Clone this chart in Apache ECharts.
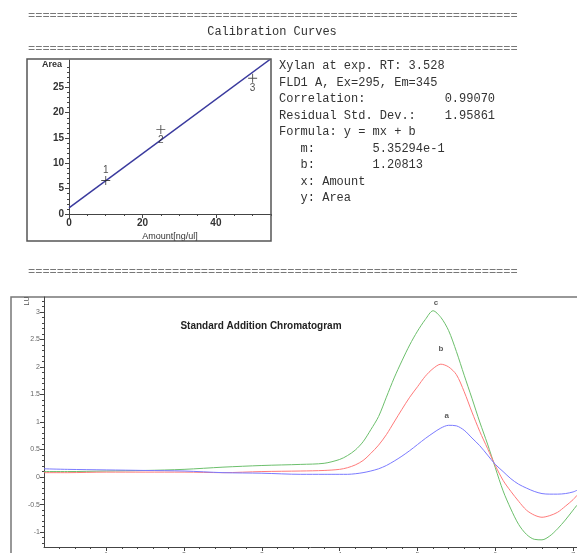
<!DOCTYPE html>
<html>
<head>
<meta charset="utf-8">
<script src="https://cdn.jsdelivr.net/npm/echarts@6/dist/echarts.min.js"></script>
<style>
html,body{margin:0;padding:0;background:#fff;}
#chart{width:577px;height:553px;}
</style>
</head>
<body>
<div id="chart"></div>
<script>
// ---------- Calibration data ----------
const calibAmount = [10, 25, 50];
const calibArea = [6.6, 16.7, 26.8];
const calibLabels = ['1', '2', '3'];
const fitAmount = [0, 55];
const fitArea = [1.21, 30.65];
const calibXTicks = [0, 20, 40];
const calibYTicks = [0, 5, 10, 15, 20, 25];

const infoLines = [
  'Xylan at exp. RT: 3.528',
  'FLD1 A, Ex=295, Em=345',
  'Correlation:           0.99070',
  'Residual Std. Dev.:    1.95861',
  'Formula: y = mx + b',
  '   m:        5.35294e-1',
  '   b:        1.20813',
  '   x: Amount',
  '   y: Area'
];

// ---------- Chromatogram data ----------
const rt = [0.2, 0.5, 1.0, 1.5, 2.0, 2.5, 3.0, 3.5, 3.8, 4.0, 4.1, 4.2, 4.3, 4.4, 4.5, 4.6, 4.7, 4.8, 4.9, 5.0,
            5.1, 5.2, 5.3, 5.4, 5.5, 5.6, 5.7, 5.8, 5.9, 6.0, 6.1, 6.2, 6.3, 6.4, 6.5, 6.6, 6.7, 6.8, 6.9, 7.0, 7.05];
const sigC = [0.10, 0.10, 0.11, 0.12, 0.14, 0.18, 0.21, 0.23, 0.25, 0.32, 0.39, 0.49, 0.64, 0.86, 1.10, 1.45, 1.80, 2.11, 2.40, 2.65,
              2.86, 3.02, 2.90, 2.66, 2.28, 1.85, 1.43, 1.00, 0.60, 0.17, -0.25, -0.58, -0.86, -1.04, -1.13, -1.14, -1.07, -0.94, -0.78, -0.60, -0.51];
const sigB = [0.08, 0.08, 0.09, 0.09, 0.09, 0.08, 0.10, 0.11, 0.12, 0.14, 0.17, 0.22, 0.30, 0.43, 0.58, 0.77, 1.00, 1.23, 1.45, 1.64,
              1.83, 1.97, 2.05, 2.00, 1.86, 1.55, 1.18, 0.83, 0.52, 0.21, -0.06, -0.26, -0.44, -0.60, -0.69, -0.73, -0.70, -0.64, -0.53, -0.41, -0.33];
const sigA = [0.15, 0.14, 0.13, 0.12, 0.11, 0.08, 0.07, 0.05, 0.05, 0.05, 0.05, 0.06, 0.08, 0.11, 0.15, 0.21, 0.29, 0.38, 0.48, 0.59,
              0.70, 0.80, 0.89, 0.94, 0.93, 0.85, 0.71, 0.57, 0.40, 0.23, 0.10, -0.03, -0.13, -0.20, -0.26, -0.30, -0.31, -0.31, -0.30, -0.27, -0.24];
const seriesNames = ['c', 'b', 'a'];
const chromXTicks = [1, 2, 3, 4, 5, 6, 7];
const chromYTicks = [-1, -0.5, 0, 0.5, 1, 1.5, 2, 2.5, 3];

// ---------- helpers ----------
function range(a, b, step, skipEvery) {
  const out = [];
  for (let v = a; v <= b + 1e-9; v += step) {
    const r = Math.round(v * 1000) / 1000;
    if (skipEvery && Math.abs(r / skipEvery - Math.round(r / skipEvery)) < 1e-6) continue;
    out.push(r);
  }
  return out;
}
function pairs(xs, ys) { return xs.map((x, i) => [x, ys[i]]); }
function peak(xs, ys) { let k = 0; ys.forEach((v, i) => { if (v > ys[k]) k = i; }); return [xs[k], ys[k]]; }

const calibXMinor = range(0, 55, 5, 20);
const calibYMinor = range(0, 30, 1, 5);
const chromXMinor = range(0.4, 7.0, 0.2, 1);
const chromYMinor = range(-1.2, 3.2, 0.1, 0.5);

const mono = '"Liberation Mono","Courier New",monospace';
const sans = '"Liberation Sans",Arial,sans-serif';
const axisCol = '#444';

const chart = echarts.init(document.getElementById('chart'), null, {renderer: 'canvas'});

const graphic = [];
// separators and heading
graphic.push({type: 'text', left: 28, top: 10, style: {text: '='.repeat(68), font: '12px ' + mono, fill: '#777'}});
graphic.push({type: 'text', x: 272, y: 32, style: {text: 'Calibration Curves', font: '12px ' + mono, fill: '#333', align: 'center', verticalAlign: 'middle'}});
graphic.push({type: 'text', left: 28, top: 43, style: {text: '='.repeat(68), font: '12px ' + mono, fill: '#777'}});
graphic.push({type: 'text', left: 28, top: 266, style: {text: '='.repeat(68), font: '12px ' + mono, fill: '#777'}});
// calibration box
graphic.push({type: 'rect', shape: {x: 27, y: 59, width: 244, height: 182}, style: {fill: 'none', stroke: '#555', lineWidth: 1.5}, z: 10});
// info lines
infoLines.forEach((t, i) => {
  graphic.push({type: 'text', x: 279, y: 66 + i * 16.5, style: {text: t, font: '12px ' + mono, fill: '#333', verticalAlign: 'middle'}});
});
// chromatogram frame
graphic.push({type: 'polyline', shape: {points: [[11, 553], [11, 297], [577, 297]]}, style: {stroke: '#777', lineWidth: 1.5, fill: 'none'}});
graphic.push({type: 'text', x: 261, y: 326, style: {text: 'Standard Addition Chromatogram', font: 'bold 10px ' + sans, fill: '#222', align: 'center', verticalAlign: 'middle'}});
graphic.push({type: 'text', x: 27, y: 301, rotation: Math.PI / 2, style: {text: 'LU', font: '7px ' + sans, fill: '#555', align: 'center', verticalAlign: 'middle'}});

const chromColors = ['#6cbf6c', '#ff7a7a', '#7a7aff'];
const chromData = [sigC, sigB, sigA];
const labelDist = [4, 11, 6];
const labelOff = [[3, 0], [0, 0], [-2, 0]];

const series = [
  {type: 'line', xAxisIndex: 0, yAxisIndex: 0, data: pairs(fitAmount, fitArea), symbol: 'none',
   lineStyle: {color: '#3a3a9e', width: 1.5}, z: 3},
  {type: 'scatter', xAxisIndex: 0, yAxisIndex: 0,
   data: calibAmount.map((x, i) => ({value: [x, calibArea[i]], label: {position: i === 0 ? 'top' : 'bottom'}})),
   symbol: 'path://M4.5,0H5.5V4.5H10V5.5H5.5V10H4.5V5.5H0V4.5H4.5Z', symbolSize: 9,
   itemStyle: {color: '#222'},
   label: {show: true, formatter: p => calibLabels[p.dataIndex], fontSize: 10, fontFamily: sans, color: '#222', distance: 1}, z: 4}
];
chromData.forEach((d, k) => {
  series.push({type: 'line', name: seriesNames[k], xAxisIndex: 2, yAxisIndex: 2, data: pairs(rt, d),
    showSymbol: false, symbol: 'none', smooth: 0.3, lineStyle: {color: chromColors[k], width: 1}, z: 2});
  series.push({type: 'scatter', xAxisIndex: 2, yAxisIndex: 2, data: [peak(rt, d)], symbolSize: 0,
    label: {show: true, position: 'top', distance: labelDist[k], offset: labelOff[k], formatter: seriesNames[k],
      fontSize: 8, fontWeight: 'bold', fontFamily: sans, color: '#333'}, z: 5});
});

function majorAxis(opt) { return Object.assign({
  type: 'value', splitLine: {show: false}, axisLine: {show: true, onZero: false, lineStyle: {color: axisCol, width: 1}},
  axisTick: {show: true, length: 4, lineStyle: {color: axisCol}},
}, opt); }
function minorAxis(opt) { return Object.assign({
  type: 'value', splitLine: {show: false}, axisLine: {show: false, onZero: false},
  axisLabel: {show: false}
}, opt); }

const option = {
  animation: false,
  backgroundColor: '#fff',
  grid: [
    {left: 69, top: 60, width: 202, height: 154, outerBoundsMode: 'none'},
    {left: 44, top: 297, width: 533, height: 250, outerBoundsMode: 'none'}
  ],
  xAxis: [
    majorAxis({gridIndex: 0, min: 0, max: 55, position: 'bottom',
      axisTick: {show: true, length: 4, customValues: calibXTicks, lineStyle: {color: axisCol}},
      axisLabel: {customValues: calibXTicks, fontSize: 10, fontWeight: 'bold', fontFamily: sans, color: '#333', margin: 4},
      name: 'Amount[ng/ul]', nameLocation: 'middle', nameGap: 18, nameTextStyle: {fontSize: 9, fontFamily: sans, color: '#333'}}),
    minorAxis({gridIndex: 0, min: 0, max: 55, position: 'bottom', axisTick: {show: true, length: 2, customValues: calibXMinor, lineStyle: {color: axisCol}}}),
    majorAxis({gridIndex: 1, min: 0.2, max: 7.05, position: 'bottom',
      axisTick: {show: true, length: 4, customValues: chromXTicks, lineStyle: {color: axisCol}},
      axisLabel: {customValues: chromXTicks, fontSize: 7, fontFamily: sans, color: '#666', margin: 5}}),
    minorAxis({gridIndex: 1, min: 0.2, max: 7.05, position: 'bottom', axisTick: {show: true, length: 2, customValues: chromXMinor, lineStyle: {color: axisCol}}})
  ],
  yAxis: [
    majorAxis({gridIndex: 0, min: 0, max: 30.4, position: 'left',
      axisTick: {show: true, length: 4, customValues: calibYTicks, lineStyle: {color: axisCol}},
      axisLabel: {customValues: calibYTicks, fontSize: 10, fontWeight: 'bold', fontFamily: sans, color: '#333', margin: 5},
      name: 'Area', nameLocation: 'end', nameGap: -5,
      nameTextStyle: {fontSize: 9, fontWeight: 'bold', fontFamily: sans, color: '#333', align: 'right', verticalAlign: 'middle', padding: [0, 7, 0, 0]}}),
    minorAxis({gridIndex: 0, min: 0, max: 30.4, position: 'left', axisTick: {show: true, length: 2, customValues: calibYMinor, lineStyle: {color: axisCol}}}),
    majorAxis({gridIndex: 1, min: -1.27, max: 3.27, position: 'left',
      axisTick: {show: true, length: 4, customValues: chromYTicks, lineStyle: {color: axisCol}},
      axisLabel: {customValues: chromYTicks, fontSize: 7, fontFamily: sans, color: '#666', margin: 4}}),
    minorAxis({gridIndex: 1, min: -1.27, max: 3.27, position: 'left', axisTick: {show: true, length: 2, customValues: chromYMinor, lineStyle: {color: axisCol}}})
  ],
  series: series,
  graphic: graphic
};
chart.setOption(option);
</script>
</body>
</html>
